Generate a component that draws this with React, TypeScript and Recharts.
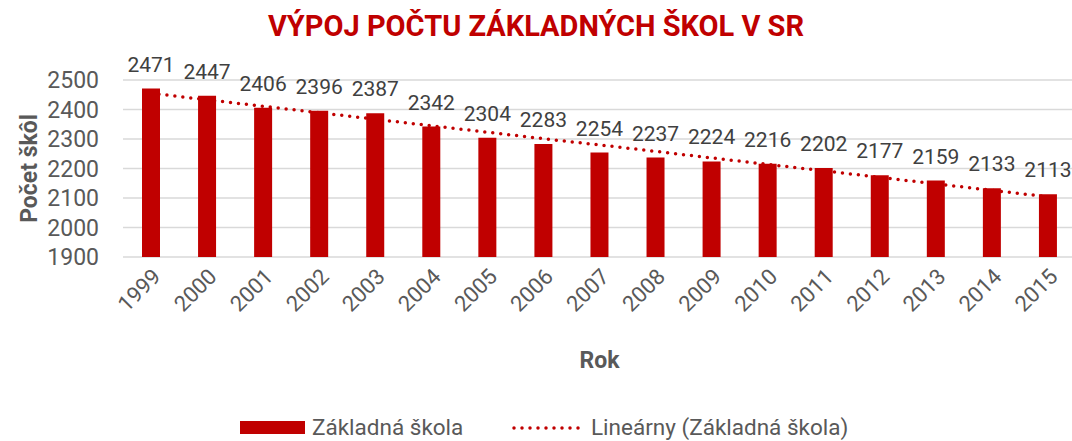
import React from "react";
import { ComposedChart, Bar, Line, XAxis, YAxis, CartesianGrid, LabelList, Label } from "recharts";

const years = ["1999", "2000", "2001", "2002", "2003", "2004", "2005", "2006", "2007", "2008", "2009", "2010", "2011", "2012", "2013", "2014", "2015"];
const schools = [2471, 2447, 2406, 2396, 2387, 2342, 2304, 2283, 2254, 2237, 2224, 2216, 2202, 2177, 2159, 2133, 2113];
// linear trend line
const trend = [2455, 2433, 2411, 2389, 2367, 2345, 2323, 2301, 2280, 2258, 2236, 2214, 2192, 2170, 2148, 2126, 2104];
const yTicks = [1900, 2000, 2100, 2200, 2300, 2400, 2500];

const data = years.map((year, i) => ({ year, schools: schools[i], trend: trend[i] }));

const RED = "#C00000";
const FONT = "Roboto, 'DejaVu Sans', sans-serif";

export default function App() {
  return (
    <div style={{ position: "absolute", top: 0, left: 0, width: 1072, height: 441, fontFamily: FONT, background: "#fff", overflow: "hidden" }}>
      <div
        style={{
          position: "absolute",
          top: 6,
          left: 0,
          width: 1072,
          textAlign: "center",
          color: RED,
          fontWeight: 700,
          fontSize: 29,
          lineHeight: "40px",
        }}
      >
        VÝPOJ POČTU ZÁKLADNÝCH ŠKOL V SR
      </div>
      <ComposedChart width={1072} height={441} data={data} margin={{ top: 80, right: -4, bottom: 184 - 125, left: 0 }}>
        <CartesianGrid vertical={false} stroke="#d9d9d9" strokeWidth={1.5} />
        <XAxis
          dataKey="year"
          height={125}
          axisLine={false}
          tickLine={false}
          tickSize={0}
          tickMargin={10}
          angle={-45}
          textAnchor="end"
          interval={0}
          tick={{ fill: "#595959", fontSize: 22, fontFamily: FONT }}
        >
          <Label value="Rok" position="insideBottom" offset={14} style={{ fill: "#595959", fontSize: 23, fontWeight: 700, fontFamily: FONT }} />
        </XAxis>
        <YAxis
          width={123}
          domain={[1900, 2500]}
          ticks={yTicks}
          interval={0}
          axisLine={false}
          tickLine={false}
          tickSize={0}
          tickMargin={24}
          tick={{ fill: "#595959", fontSize: 23, fontFamily: FONT }}
        >
          <Label value="Počet škôl" angle={-90} position="insideLeft" offset={29} style={{ fill: "#595959", fontSize: 23, fontWeight: 700, fontFamily: FONT, textAnchor: "middle" }} />
        </YAxis>
        <Line
          dataKey="trend"
          type="linear"
          stroke={RED}
          strokeWidth={3.5}
          strokeDasharray="0 8"
          strokeLinecap="round"
          dot={false}
          isAnimationActive={false}
        />
        <Bar dataKey="schools" fill={RED} barSize={18} isAnimationActive={false}>
          <LabelList dataKey="schools" position="top" offset={17} style={{ fill: "#404040", fontSize: 21, fontFamily: FONT }} />
        </Bar>
      </ComposedChart>
      <div style={{ position: "absolute", top: 410, left: 0, width: 1072, height: 28, fontSize: 22.5, color: "#595959" }}>
        <div style={{ position: "absolute", left: 240, top: 11, width: 65, height: 13, background: RED }} />
        <div style={{ position: "absolute", left: 312, top: 3, lineHeight: "28px" }}>Základná škola</div>
        <svg style={{ position: "absolute", left: 510, top: 14 }} width={80} height={8}>
          <line x1={4} y1={4} x2={76} y2={4} stroke={RED} strokeWidth={3.5} strokeDasharray="0 8" strokeLinecap="round" />
        </svg>
        <div style={{ position: "absolute", left: 591, top: 3, lineHeight: "28px" }}>Lineárny (Základná škola)</div>
      </div>
    </div>
  );
}
